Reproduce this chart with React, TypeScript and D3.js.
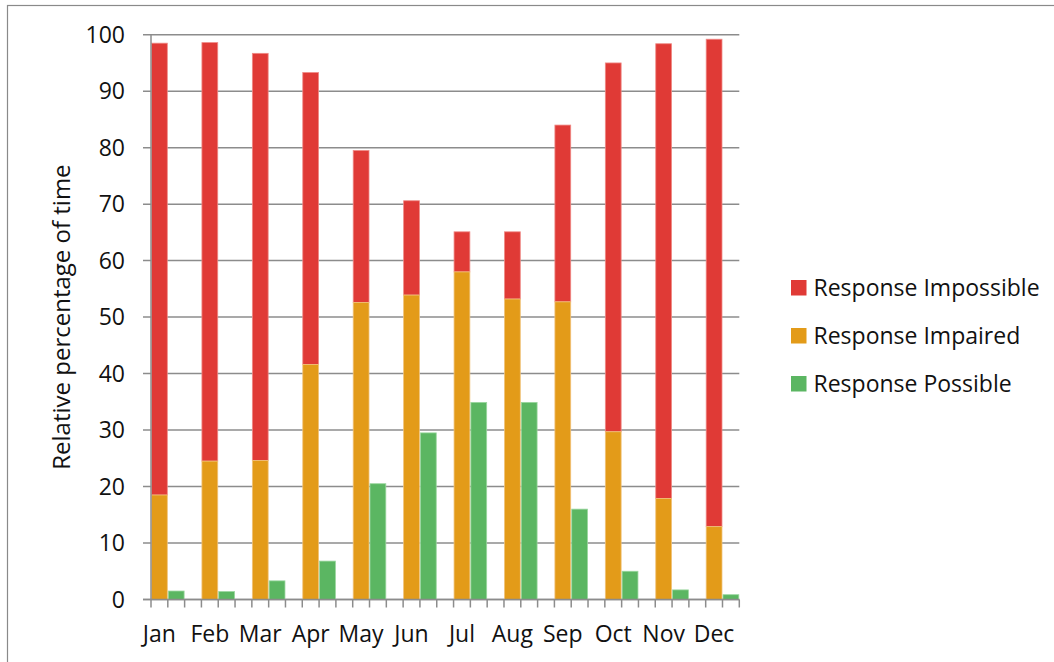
import React, { useEffect, useRef } from 'react';
import * as d3 from 'd3';

// Monthly share of time per response class (percent)
const MONTHS = ['Jan', 'Feb', 'Mar', 'Apr', 'May', 'Jun', 'Jul', 'Aug', 'Sep', 'Oct', 'Nov', 'Dec'];
const IMPAIRED = [18.5, 24.5, 24.6, 41.6, 52.6, 53.9, 58.0, 53.2, 52.7, 29.7, 17.9, 12.9];
const IMPOSSIBLE = [80.0, 74.1, 72.1, 51.7, 26.9, 16.7, 7.1, 11.9, 31.3, 65.3, 80.5, 86.3];
const POSSIBLE = [1.5, 1.4, 3.3, 6.8, 20.5, 29.5, 34.9, 34.9, 16.0, 5.0, 1.7, 0.85];
const Y_TICKS = [0, 10, 20, 30, 40, 50, 60, 70, 80, 90, 100];

const SERIES = [
  { name: 'Response Impossible', color: '#e03a36', edge: '#ef8a86' },
  { name: 'Response Impaired', color: '#e39b19', edge: '#f0c27a' },
  { name: 'Response Possible', color: '#5bb662', edge: '#9ad69f' },
];

export default function App() {
  const svgRef = useRef<SVGSVGElement>(null);

  useEffect(() => {
    if (!svgRef.current) return;
    const W = 1054;
    const H = 662;
    const margin = { top: 34.7, left: 151, right: 1054 - 739.3, bottom: 662 - 599.5 };
    const font = '"Open Sans", sans-serif';
    const fs = 23;

    const svg = d3.select(svgRef.current);
    svg.selectAll('*').remove();
    svg.attr('width', W).attr('height', H).style('background', '#fff');

    // outer frame (clipped at right/bottom like the source)
    svg.append('rect')
      .attr('x', 7.5).attr('y', 5.5)
      .attr('width', 1200).attr('height', 800)
      .attr('fill', 'none').attr('stroke', '#8a8a8a').attr('stroke-width', 1.2);

    // each month takes 3 slots: stacked bar, green bar, gap (no gap after Dec)
    const nSlots = MONTHS.length * 3 - 1;
    const x = d3.scaleBand<number>()
      .domain(d3.range(nSlots))
      .range([margin.left, W - margin.right])
      .paddingInner(0).paddingOuter(0);
    const y = d3.scaleLinear().domain([0, 100]).range([H - margin.bottom, margin.top]);

    // grid
    svg.append('g')
      .selectAll('line')
      .data(Y_TICKS)
      .enter()
      .append('line')
      .attr('x1', margin.left - 8)
      .attr('x2', W - margin.right)
      .attr('y1', d => y(d))
      .attr('y2', d => y(d))
      .attr('stroke', '#8c8c8c')
      .attr('stroke-width', 1.5);

    // y tick labels
    svg.append('g')
      .selectAll('text')
      .data(Y_TICKS)
      .enter()
      .append('text')
      .attr('x', 125)
      .attr('y', d => y(d))
      .attr('dy', '0.36em')
      .attr('text-anchor', 'end')
      .attr('font-family', font)
      .attr('font-size', fs)
      .attr('fill', '#111')
      .text(d => d);

    // stacked bars (impaired bottom, impossible on top)
    const bars = svg.append('g');
    MONTHS.forEach((m, i) => {
      const s0 = i * 3;
      const s1 = i * 3 + 1;
      const bw = x.bandwidth();
      const top = IMPAIRED[i] + IMPOSSIBLE[i];
      bars.append('rect')
        .attr('x', x(s0)! + 0.5)
        .attr('y', y(top))
        .attr('width', bw - 1)
        .attr('height', y(IMPAIRED[i]) - y(top))
        .attr('fill', SERIES[0].color)
        .attr('stroke', SERIES[0].edge)
        .attr('stroke-width', 0.8);
      bars.append('rect')
        .attr('x', x(s0)! + 0.5)
        .attr('y', y(IMPAIRED[i]))
        .attr('width', bw - 1)
        .attr('height', y(0) - y(IMPAIRED[i]))
        .attr('fill', SERIES[1].color)
        .attr('stroke', SERIES[1].edge)
        .attr('stroke-width', 0.8);
      bars.append('rect')
        .attr('x', x(s1)! + 0.5)
        .attr('y', y(POSSIBLE[i]))
        .attr('width', bw - 1)
        .attr('height', y(0) - y(POSSIBLE[i]))
        .attr('fill', SERIES[2].color)
        .attr('stroke', SERIES[2].edge)
        .attr('stroke-width', 0.8);
    });

    // axes lines
    svg.append('line')
      .attr('x1', margin.left).attr('x2', margin.left)
      .attr('y1', y(100)).attr('y2', y(0))
      .attr('stroke', '#8c8c8c').attr('stroke-width', 1.5);
    svg.append('line')
      .attr('x1', margin.left - 8).attr('x2', W - margin.right)
      .attr('y1', y(0)).attr('y2', y(0))
      .attr('stroke', '#8c8c8c').attr('stroke-width', 1.5);

    // x ticks at every slot boundary
    const bounds = d3.range(nSlots + 1).map(k => margin.left + k * x.step());
    svg.append('g')
      .selectAll('line')
      .data(bounds)
      .enter()
      .append('line')
      .attr('x1', d => d).attr('x2', d => d)
      .attr('y1', y(0)).attr('y2', y(0) + 8)
      .attr('stroke', '#8c8c8c').attr('stroke-width', 1.5);

    // month labels under the stacked bars
    svg.append('g')
      .selectAll('text')
      .data(MONTHS)
      .enter()
      .append('text')
      .attr('x', (d, i) => x(i * 3)! + x.bandwidth() / 2)
      .attr('y', 642)
      .attr('text-anchor', 'middle')
      .attr('font-family', font)
      .attr('font-size', fs)
      .attr('fill', '#111')
      .text(d => d);

    // y title
    svg.append('text')
      .attr('transform', `translate(70,${(y(0) + y(100)) / 2}) rotate(-90)`)
      .attr('text-anchor', 'middle')
      .attr('font-family', font)
      .attr('font-size', 24)
      .attr('fill', '#111')
      .text('Relative percentage of time');

    // legend
    const legend = svg.append('g').attr('transform', 'translate(791,288)');
    SERIES.forEach((s, i) => {
      const row = legend.append('g').attr('transform', `translate(0,${i * 48})`);
      row.append('rect')
        .attr('x', 0).attr('y', -8)
        .attr('width', 15.5).attr('height', 15.5)
        .attr('fill', s.color);
      row.append('text')
        .attr('x', 22.5)
        .attr('y', 0)
        .attr('dy', '0.36em')
        .attr('font-family', font)
        .attr('font-size', fs)
        .attr('fill', '#111')
        .text(s.name);
    });
  }, []);

  return (
    <div style={{ position: 'absolute', left: 0, top: 0, width: 1054, height: 662, overflow: 'hidden' }}>
      <svg ref={svgRef} style={{ display: 'block' }} />
    </div>
  );
}
